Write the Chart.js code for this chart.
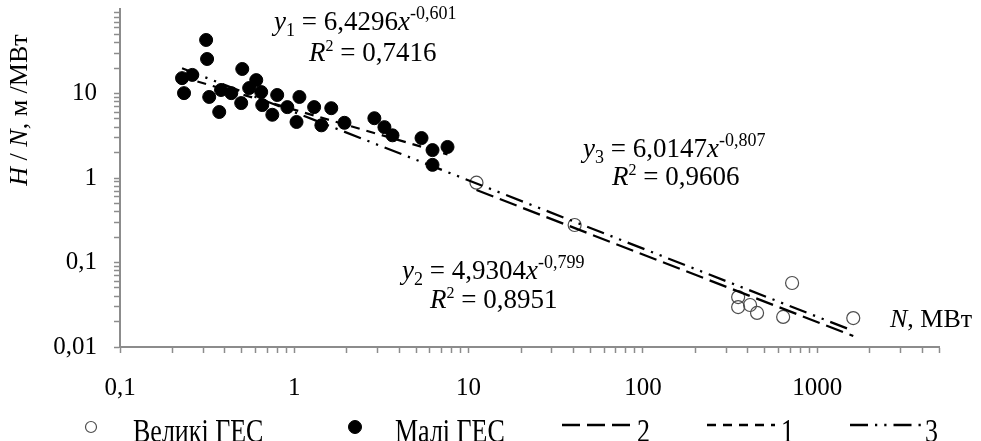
<!DOCTYPE html>
<html>
<head>
<meta charset="utf-8">
<script src="https://cdn.jsdelivr.net/npm/chart.js@4.4.1/dist/chart.umd.min.js"></script>
<style>
  html, body { margin: 0; padding: 0; background: #fff; }
  canvas { display: block; }
</style>
</head>
<body>
<canvas id="hesChart" width="981" height="441"></canvas>
<script>
// Великі ГЕС: встановлена потужність N, МВт і питомий показник H/N, м/МВт
const bigN  = [11.1, 40.6, 352, 352, 412, 452, 638, 718, 1611];
const bigHN = [0.88, 0.278, 0.039, 0.0297, 0.0314, 0.0253, 0.0227, 0.0572, 0.022];

// Малі ГЕС
const smallN  = [0.312, 0.316, 0.227, 0.26, 0.233, 0.503, 0.605, 0.325, 0.371, 0.38,
                 0.435, 0.496, 0.551, 0.646, 0.655, 0.798, 0.748, 0.912, 1.07, 1.03,
                 1.30, 1.43, 1.63, 1.94, 2.88, 3.29, 3.66, 5.37, 6.21, 7.57, 6.21];
const smallHN = [43.0, 25.6, 15.2, 16.6, 10.1, 19.5, 14.4, 9.1, 6.04, 11.0,
                 10.1, 7.7, 11.6, 10.4, 7.3, 9.6, 5.6, 6.9, 9.1, 4.6,
                 6.9, 4.2, 6.7, 4.5, 5.1, 4.0, 3.2, 2.97, 2.14, 2.33, 1.43];

// Степеневі тренди y = a·x^b (1 – малі ГЕС, 2 – великі ГЕС, 3 – усі)
const trendA    = [6.4296, 4.9304, 6.0147];
const trendB    = [-0.601, -0.799, -0.807];
const trendR2   = [0.7416, 0.8951, 0.9606];
const trendFrom = [0.227, 11.1, 0.227];
const trendTo   = [7.57, 1611, 1611];

const xTicks = [0.1, 1, 10, 100, 1000];
const xTickLabels = ['0,1', '1', '10', '100', '1000'];
const yTicks = [0.01, 0.1, 1, 10];
const yTickLabels = ['0,01', '0,1', '1', '10'];
const legendLabels = ['Великі ГЕС', 'Малі ГЕС', '2', '1', '3'];

const serif = 'Liberation Serif';
const axisColor = '#8c8c8c';

// 1..9 · 10^k між min і max (для мітки кожної декади)
function logTicks(min, max) {
  const out = [];
  for (let e = Math.floor(Math.log10(min)); e <= Math.ceil(Math.log10(max)); e++) {
    for (let m = 1; m <= 9; m++) {
      const v = +(m * Math.pow(10, e)).toPrecision(6);
      if (v >= min && v <= max) out.push(v);
    }
  }
  return out;
}

function trendLine(i) {
  return [trendFrom[i], trendTo[i]].map(x => ({ x: x, y: trendA[i] * Math.pow(x, trendB[i]) }));
}

const comma = v => String(v).replace('.', ',');

// рядок тексту з частин різного шрифту (курсив, індекси)
function drawParts(ctx, x, y, parts) {
  let cx = x;
  parts.forEach(p => {
    ctx.font = (p.italic ? 'italic ' : '') + p.size + 'px "' + serif + '"';
    ctx.fillText(p.t, cx, y + (p.dy || 0));
    cx += ctx.measureText(p.t).width;
  });
  return cx - x;
}

function equationParts(i) {
  return [
    { t: 'y', italic: true, size: 27 },
    { t: String(i + 1), size: 18, dy: 6 },
    { t: ' = ' + comma(trendA[i]), size: 27 },
    { t: 'x', italic: true, size: 27 },
    { t: comma(trendB[i]), size: 18, dy: -11 }
  ];
}

function r2Parts(i) {
  return [
    { t: 'R', italic: true, size: 27 },
    { t: '2', size: 16, dy: -10 },
    { t: ' = ' + comma(trendR2[i]), size: 27 }
  ];
}

// рівняння трендів і підписи осей
const labelsPlugin = {
  id: 'labelsPlugin',
  afterDraw(chart, args, opts) {
    const ctx = chart.ctx;
    ctx.save();
    ctx.fillStyle = '#000';
    ctx.textBaseline = 'alphabetic';
    opts.equations.forEach(e => {
      drawParts(ctx, e.x1, e.y1, equationParts(e.i));
      drawParts(ctx, e.x2, e.y2, r2Parts(e.i));
    });

    drawParts(ctx, 890, 327, [
      { t: 'N', italic: true, size: 26 },
      { t: ', МВт', size: 26 }
    ]);

    const yTitle = [
      { t: 'H', italic: true, size: 26 },
      { t: ' / ', size: 26 },
      { t: 'N', italic: true, size: 26 },
      { t: ', м /МВт', size: 26 }
    ];
    ctx.translate(27, 110);
    ctx.rotate(-Math.PI / 2);
    let w = 0;
    yTitle.forEach(p => {
      ctx.font = (p.italic ? 'italic ' : '') + p.size + 'px "' + serif + '"';
      w += ctx.measureText(p.t).width;
    });
    drawParts(ctx, -w / 2, 0, yTitle);
    ctx.restore();
  }
};

// легенда в один рядок під віссю
const legendRow = {
  id: 'legendRow',
  afterDraw(chart, args, opts) {
    const ctx = chart.ctx;
    ctx.save();
    chart.data.datasets.forEach((ds, i) => {
      const it = opts.items[i];
      if (ds.showLine) {
        ctx.strokeStyle = ds.borderColor;
        ctx.lineWidth = opts.lineWidth;
        ctx.setLineDash(ds.borderDash || []);
        ctx.beginPath();
        ctx.moveTo(it.x0, opts.y - 2);
        ctx.lineTo(it.x1, opts.y - 2);
        ctx.stroke();
        ctx.setLineDash([]);
      } else {
        ctx.beginPath();
        ctx.arc(it.x0, opts.y, it.r, 0, Math.PI * 2);
        ctx.fillStyle = ds.pointBackgroundColor;
        ctx.fill();
        ctx.lineWidth = ds.pointBorderWidth;
        ctx.strokeStyle = ds.pointBorderColor;
        ctx.stroke();
      }
      // підписи легенди трохи витягнуті по вертикалі
      ctx.save();
      ctx.translate(it.tx, opts.baseline);
      ctx.scale(1, opts.stretch);
      ctx.fillStyle = '#000';
      ctx.font = opts.size + 'px "' + serif + '"';
      ctx.textBaseline = 'alphabetic';
      ctx.fillText(ds.label, 0, 0);
      ctx.restore();
    });
    ctx.restore();
  }
};

const tickFont = { family: serif, size: 25 };

new Chart(document.getElementById('hesChart'), {
  type: 'scatter',
  data: {
    datasets: [
      {
        label: legendLabels[0],
        data: bigN.map((x, i) => ({ x: x, y: bigHN[i] })),
        pointRadius: 6.5,
        pointBackgroundColor: 'rgba(0,0,0,0)',
        pointBorderColor: '#4d4d4d',
        pointBorderWidth: 1.2,
        order: 2
      },
      {
        label: legendLabels[1],
        data: smallN.map((x, i) => ({ x: x, y: smallHN[i] })),
        pointRadius: 6.5,
        pointBackgroundColor: '#000',
        pointBorderColor: '#000',
        pointBorderWidth: 1,
        order: 1
      },
      {
        label: legendLabels[2],
        data: trendLine(1),
        showLine: true,
        borderColor: '#000',
        borderWidth: 2.25,
        borderDash: [18, 7],
        pointRadius: 0,
        order: 0
      },
      {
        label: legendLabels[3],
        data: trendLine(0),
        showLine: true,
        borderColor: '#000',
        borderWidth: 2.25,
        borderDash: [9, 7],
        pointRadius: 0,
        order: 0
      },
      {
        label: legendLabels[4],
        data: trendLine(2),
        showLine: true,
        borderColor: '#000',
        borderWidth: 2.25,
        borderDash: [18, 7, 2.25, 7, 2.25, 7],
        pointRadius: 0,
        order: 0
      }
    ]
  },
  options: {
    responsive: false,
    animation: false,
    events: [],
    layout: { padding: { top: 9, right: 42, left: 0, bottom: 0 } },
    plugins: {
      legend: { display: false },
      tooltip: { enabled: false },
      labelsPlugin: {
        equations: [
          { i: 0, x1: 274, y1: 30, x2: 309, y2: 61 },
          { i: 1, x1: 402, y1: 279, x2: 430, y2: 308 },
          { i: 2, x1: 583, y1: 157, x2: 612, y2: 185 }
        ]
      },
      legendRow: {
        y: 427,
        baseline: 442,
        size: 26,
        stretch: 1.3,
        lineWidth: 2.5,
        items: [
          { x0: 91, r: 5.5, tx: 133 },
          { x0: 355, r: 6.5, tx: 395 },
          { x0: 562, x1: 634, tx: 637 },
          { x0: 707, x1: 775, tx: 781 },
          { x0: 850, x1: 921, tx: 925 }
        ]
      }
    },
    scales: {
      x: {
        type: 'logarithmic',
        min: 0.1,
        max: 5000,
        afterBuildTicks: s => { s.ticks = logTicks(0.1, 5000).map(v => ({ value: v })); },
        afterFit: s => { s.height = 94; s.paddingLeft = 0; s.paddingRight = 0; },
        border: { display: true, color: axisColor, width: 2 },
        grid: { display: true, drawOnChartArea: false, drawTicks: true, tickLength: 6, tickColor: axisColor, tickWidth: 1.5 },
        ticks: {
          autoSkip: false,
          maxRotation: 0,
          padding: 20,
          color: '#000',
          font: tickFont,
          callback: v => { const i = xTicks.indexOf(v); return i < 0 ? '' : xTickLabels[i]; }
        }
      },
      y: {
        type: 'logarithmic',
        min: 0.01,
        max: 100,
        afterBuildTicks: s => { s.ticks = logTicks(0.01, 90).map(v => ({ value: v })); },
        afterFit: s => { s.width = 120; s.paddingTop = 0; s.paddingBottom = 0; },
        border: { display: true, color: axisColor, width: 2 },
        grid: { display: true, drawOnChartArea: false, drawTicks: true, tickLength: 6, tickColor: axisColor, tickWidth: 1.5 },
        ticks: {
          autoSkip: false,
          padding: 17,
          color: '#000',
          font: tickFont,
          callback: v => { const i = yTicks.indexOf(v); return i < 0 ? '' : yTickLabels[i]; }
        }
      }
    }
  },
  plugins: [labelsPlugin, legendRow]
});
</script>
</body>
</html>
